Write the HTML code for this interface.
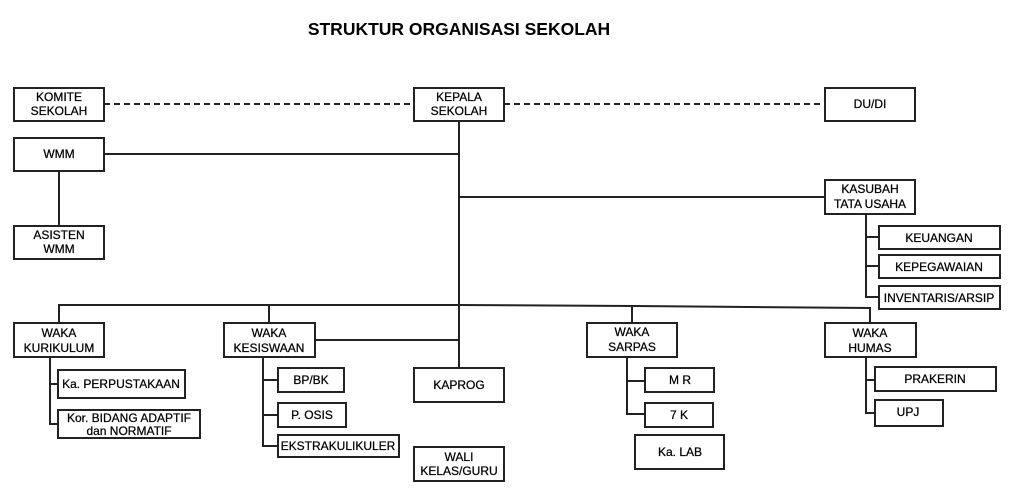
<!DOCTYPE html>
<html><head><style>
html,body{margin:0;padding:0;background:#fff;}
svg{display:block;}
text{font-family:"Liberation Sans",Arial,sans-serif;font-size:12px;fill:#000;stroke:#000;stroke-width:0.25;text-anchor:middle;}
rect{fill:#fff;stroke:#222;stroke-width:2;}
line,polyline{stroke:#222;stroke-width:2;fill:none;}
</style></head><body>
<svg width="1012" height="494" viewBox="0 0 1012 494">
<text x="459" y="35" style="font-size:17.5px;font-weight:bold;stroke-width:0">STRUKTUR ORGANISASI SEKOLAH</text>

<!-- connectors -->
<line x1="104" y1="104" x2="414" y2="104" stroke-dasharray="6,4"/>
<line x1="504" y1="104" x2="825" y2="104" stroke-dasharray="6,4"/>
<line x1="459" y1="121" x2="459" y2="368"/>
<line x1="104" y1="154" x2="459" y2="154"/>
<line x1="59" y1="171" x2="59" y2="226"/>
<line x1="459" y1="197" x2="825" y2="197"/>
<polyline points="866,214 866,297 879,297"/>
<line x1="866" y1="237" x2="879" y2="237"/>
<line x1="866" y1="266" x2="879" y2="266"/>
<polyline points="59,323 59,305 459,305 632,306 870,308 870,323"/>
<line x1="269" y1="305" x2="269" y2="323"/>
<line x1="632" y1="306" x2="632" y2="323"/>
<line x1="315" y1="340" x2="459" y2="340"/>
<polyline points="50,357 50,424 58,424"/>
<line x1="50" y1="384" x2="58" y2="384"/>
<polyline points="263,357 263,446 278,446"/>
<line x1="263" y1="380" x2="278" y2="380"/>
<line x1="263" y1="415" x2="278" y2="415"/>
<polyline points="627,357 627,414 645,414"/>
<line x1="627" y1="381" x2="645" y2="381"/>
<polyline points="866,357 866,413 875,413"/>
<line x1="866" y1="380" x2="875" y2="380"/>

<!-- boxes -->
<rect x="14" y="88" width="90" height="33"/><text x="59" y="101">KOMITE</text><text x="59" y="115">SEKOLAH</text>
<rect x="414" y="88" width="90" height="33"/><text x="459" y="101">KEPALA</text><text x="459" y="115">SEKOLAH</text>
<rect x="825" y="88" width="90" height="33"/><text x="870" y="108">DU/DI</text>
<rect x="14" y="138" width="90" height="33"/><text x="59" y="158">WMM</text>
<rect x="14" y="226" width="90" height="33"/><text x="59" y="239">ASISTEN</text><text x="59" y="253">WMM</text>
<rect x="825" y="180" width="90" height="34"/><text x="870" y="193">KASUBAH</text><text x="870" y="208">TATA USAHA</text>
<rect x="879" y="226" width="121" height="23"/><text x="939" y="242">KEUANGAN</text>
<rect x="879" y="255" width="121" height="23"/><text x="939" y="271">KEPEGAWAIAN</text>
<rect x="879" y="286" width="121" height="23"/><text x="939" y="302">INVENTARIS/ARSIP</text>
<rect x="14" y="323" width="90" height="34"/><text x="59" y="337">WAKA</text><text x="59" y="352">KURIKULUM</text>
<rect x="58" y="370" width="127" height="28"/><text x="121" y="388">Ka. PERPUSTAKAAN</text>
<rect x="58" y="410" width="142" height="28"/><text x="129" y="422">Kor. BIDANG ADAPTIF</text><text x="129" y="435">dan NORMATIF</text>
<rect x="224" y="323" width="91" height="34"/><text x="269" y="337">WAKA</text><text x="269" y="352">KESISWAAN</text>
<rect x="278" y="368" width="66" height="24"/><text x="311" y="384">BP/BK</text>
<rect x="278" y="403" width="68" height="24"/><text x="312" y="419">P. OSIS</text>
<rect x="278" y="435" width="121" height="22"/><text x="338" y="450">EKSTRAKULIKULER</text>
<rect x="414" y="368" width="90" height="34"/><text x="459" y="389">KAPROG</text>
<rect x="414" y="447" width="90" height="34"/><text x="459" y="461">WALI</text><text x="459" y="475">KELAS/GURU</text>
<rect x="587" y="323" width="90" height="34"/><text x="632" y="336">WAKA</text><text x="632" y="351">SARPAS</text>
<rect x="645" y="368" width="69" height="24"/><text x="680" y="384">M R</text>
<rect x="645" y="403" width="68" height="24"/><text x="679" y="419">7 K</text>
<rect x="635" y="435" width="89" height="34"/><text x="680" y="456">Ka. LAB</text>
<rect x="825" y="323" width="91" height="34"/><text x="870" y="337">WAKA</text><text x="870" y="352">HUMAS</text>
<rect x="875" y="367" width="121" height="24"/><text x="935" y="383">PRAKERIN</text>
<rect x="875" y="400" width="68" height="26"/><text x="908" y="416">UPJ</text>
</svg>
</body></html>
